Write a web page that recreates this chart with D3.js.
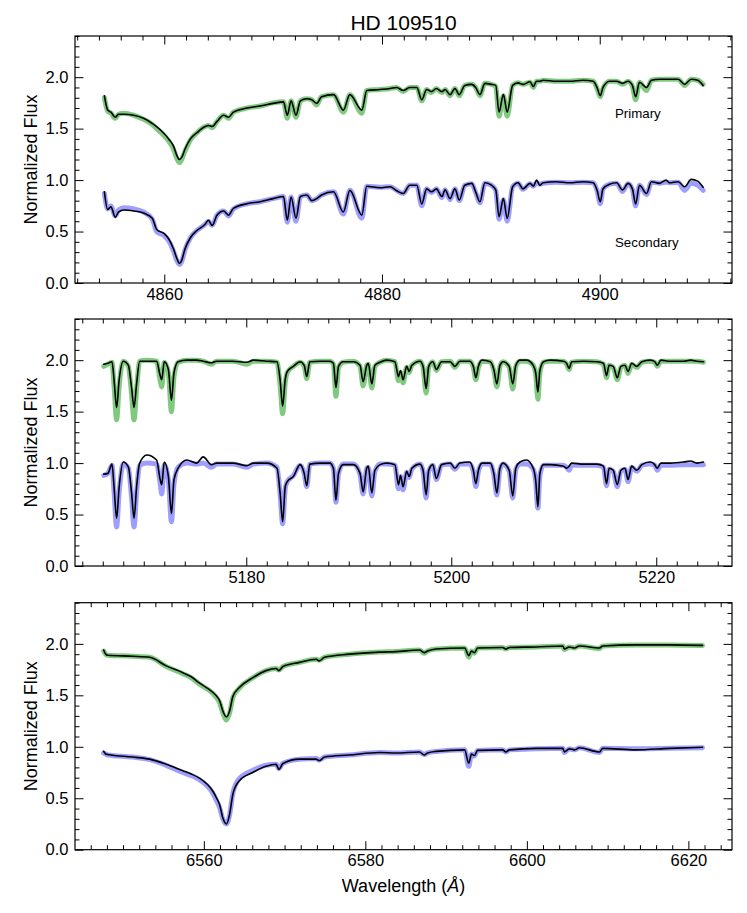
<!DOCTYPE html>
<html>
<head>
<meta charset="utf-8">
<script src="https://cdn.jsdelivr.net/npm/d3@7"></script>
<style>
  html, body { margin: 0; padding: 0; background: #fff; }
  svg { display: block; font-family: "Liberation Sans", Arial, Helvetica, sans-serif; }
</style>
</head>
<body>
<svg id="chart" width="747" height="913"></svg>
<script>
// ---------------- DATA ----------------
const title = "HD 109510";
const yTickValues = [0.0, 0.5, 1.0, 1.5, 2.0];
const yLabel = "Normalized Flux";
const xLabel = "Wavelength (";
const componentLabels = ["Primary", "Secondary"];
const componentLabelPos = [[4901.4, 1.60], [4901.4, 0.352]];

// Panel 1 : H-beta region
const p1Wave = [4854.5,4854.8,4855.1,4855.5,4855.8,4856.3,4857.2,4858.1,4858.9,4859.3,
 4860.0,4860.4,4860.85,4861.15,4861.4,4861.6,4861.9,4862.4,4863.0,4863.75,
 4864.05,4864.4,4864.85,4865.45,4865.9,4866.35,4867.6,4868.8,4870.0,4870.95,
 4871.3,4871.65,4872.1,4872.5,4873.1,4873.55,4874.0,4874.45,4875.55,4876.45,
 4877.05,4878.15,4878.6,4879.8,4880.75,4881.35,4881.95,4882.55,4883.2,4883.65,
 4884.1,4884.55,4885.0,4885.5,4885.8,4886.25,4886.7,4887.1,4887.6,4888.25,
 4888.6,4889.0,4889.45,4890.05,4890.45,4890.75,4891.15,4891.5,4892.0,4892.5,
 4892.95,4893.6,4893.9,4894.2,4894.5,4894.8,4896.0,4897.25,4898.45,4899.4,
 4899.75,4900.05,4900.3,4900.9,4901.55,4902.1,4902.6,4903.0,4903.3,4903.65,
 4904.3,4904.75,4905.5,4906.1,4906.4,4907.2,4907.8,4908.4,4909.0,4909.5];
const p1PrimObs = [1.82,1.68,1.66,1.61,1.64,1.64,1.63,1.60,1.55,1.52,
 1.45,1.40,1.33,1.24,1.20,1.22,1.30,1.40,1.46,1.52,
 1.53,1.52,1.57,1.63,1.61,1.66,1.70,1.72,1.745,1.76,
 1.63,1.77,1.63,1.77,1.79,1.78,1.745,1.81,1.83,1.68,
 1.83,1.68,1.87,1.88,1.89,1.90,1.87,1.90,1.90,1.78,
 1.88,1.86,1.89,1.86,1.88,1.83,1.89,1.83,1.92,1.93,
 1.90,1.83,1.94,1.93,1.92,1.66,1.83,1.66,1.92,1.945,
 1.93,1.955,1.91,1.96,1.96,1.97,1.96,1.96,1.97,1.96,
 1.90,1.82,1.90,1.96,1.96,1.94,1.96,1.92,1.81,1.95,
 1.90,1.97,1.98,1.98,1.98,1.98,1.93,1.98,1.97,1.92];
const p1PrimModel = [1.80,1.67,1.65,1.60,1.64,1.65,1.63,1.59,1.54,1.50,
 1.43,1.38,1.30,1.21,1.17,1.20,1.28,1.39,1.46,1.52,
 1.53,1.51,1.57,1.63,1.60,1.66,1.70,1.72,1.75,1.76,
 1.60,1.77,1.61,1.77,1.79,1.78,1.73,1.81,1.83,1.66,
 1.83,1.65,1.87,1.88,1.89,1.90,1.86,1.90,1.90,1.77,
 1.88,1.85,1.89,1.85,1.88,1.82,1.89,1.82,1.92,1.93,
 1.90,1.82,1.94,1.93,1.91,1.62,1.82,1.62,1.92,1.945,
 1.93,1.95,1.90,1.96,1.96,1.97,1.96,1.96,1.97,1.96,
 1.89,1.81,1.89,1.96,1.96,1.93,1.96,1.91,1.78,1.95,
 1.87,1.97,1.98,1.98,1.98,1.98,1.92,1.98,1.97,1.93];
const p1SecObs = [0.886,0.715,0.74,0.64,0.69,0.71,0.70,0.68,0.63,0.52,
 0.48,0.43,0.33,0.24,0.19,0.22,0.33,0.44,0.51,0.57,
 0.61,0.56,0.66,0.70,0.66,0.725,0.77,0.79,0.82,0.84,
 0.61,0.835,0.63,0.84,0.855,0.80,0.82,0.855,0.886,0.69,
 0.90,0.66,0.94,0.925,0.935,0.896,0.87,0.95,0.95,0.767,
 0.915,0.886,0.915,0.84,0.905,0.82,0.915,0.806,0.95,0.968,
 0.886,0.79,0.974,0.95,0.905,0.644,0.82,0.628,0.935,0.974,
 0.915,0.968,0.94,1.0,0.95,0.974,0.984,0.974,0.984,0.974,
 0.903,0.79,0.915,0.96,0.974,0.903,0.968,0.915,0.767,0.95,
 0.87,0.984,0.968,1.0,0.974,0.984,0.935,1.007,0.99,0.93];
const p1SecModel = [0.87,0.72,0.75,0.65,0.71,0.73,0.72,0.69,0.62,0.50,
 0.46,0.41,0.31,0.22,0.18,0.21,0.32,0.44,0.51,0.57,
 0.60,0.56,0.66,0.70,0.65,0.72,0.77,0.79,0.82,0.84,
 0.59,0.835,0.60,0.84,0.855,0.80,0.82,0.855,0.886,0.67,
 0.90,0.63,0.94,0.93,0.935,0.90,0.87,0.95,0.95,0.75,
 0.915,0.88,0.915,0.83,0.905,0.81,0.915,0.80,0.95,0.965,
 0.88,0.78,0.97,0.95,0.90,0.62,0.81,0.60,0.935,0.97,
 0.91,0.965,0.94,0.975,0.96,0.97,0.98,0.975,0.98,0.975,
 0.90,0.77,0.915,0.96,0.97,0.89,0.965,0.91,0.75,0.95,
 0.86,0.98,0.97,0.98,0.975,0.98,0.90,0.97,0.95,0.90];
const p1XTicks = [4860, 4880, 4900];

// Panel 2 : Mg b region
const p2Wave = [5166.1,5166.5,5166.9,5167.1,5167.35,5167.6,5168.0,5168.5,5168.8,5169.05,
 5169.3,5169.6,5170.3,5171.25,5171.6,5171.75,5172.0,5172.4,5172.7,5172.95,
 5173.35,5174.2,5175.15,5175.8,5176.6,5177.1,5178.7,5180.05,5180.7,5182.0,
 5183.0,5183.3,5183.55,5183.8,5184.0,5184.6,5185.25,5185.65,5185.9,5186.2,
 5187.2,5188.15,5188.5,5188.75,5189.0,5189.45,5190.45,5191.1,5191.4,5191.75,
 5191.9,5192.25,5192.55,5193.05,
 5193.7,5194.5,5194.85,5195.05,5195.3,5195.65,5195.9,5196.15,5196.95,5197.25,
 5197.55,5197.8,5198.2,5198.55,5199.05,5199.9,5200.35,5200.85,5201.8,5202.15,
 5202.4,5202.65,5203.0,5203.8,5204.15,5204.45,5204.75,5205.05,5205.65,5206.0,
 5206.3,5206.7,5207.35,5208.0,5208.25,5208.45,5208.65,5209.0,5209.65,5210.95,
 5211.25,5211.5,5211.75,5212.9,5214.2,5214.85,5215.15,5215.4,5215.8,5216.2,
 5216.55,5216.95,5217.25,5217.6,5218.1,5218.6,5219.4,5219.85,5220.1,5220.45,
 5221.35,5222.65,5223.35,5223.95,5224.6];
const p2PrimObs = [1.96,1.97,1.985,1.81,1.54,1.81,1.99,1.95,1.74,1.54,
 1.77,1.99,1.99,1.99,1.85,1.81,1.985,1.91,1.61,1.88,
 1.985,2.0,2.0,1.99,1.975,1.99,1.99,1.98,2.0,1.99,
 1.985,1.81,1.553,1.81,1.89,1.94,1.985,1.95,1.84,1.985,
 1.99,1.99,1.97,1.735,1.94,1.985,1.985,1.95,1.79,1.95,
 1.97,1.77,1.95,1.98,
 2.0,1.985,1.84,1.90,1.81,1.94,1.89,1.95,1.99,1.94,
 1.725,1.94,1.985,1.91,1.985,1.985,1.94,1.99,1.99,1.94,
 1.83,1.94,2.0,1.985,1.91,1.77,1.95,1.985,1.94,1.77,
 1.95,2.0,2.0,1.95,1.87,1.69,1.90,1.985,2.0,1.99,
 1.97,1.92,1.985,1.99,1.985,1.97,1.85,1.95,1.94,1.83,
 1.94,1.95,1.89,1.97,1.94,1.985,2.0,1.985,1.95,2.0,
 1.99,1.99,2.0,1.99,1.985];
const p2PrimModel = [1.94,1.96,1.98,1.75,1.42,1.75,1.99,1.94,1.68,1.42,
 1.72,1.99,2.0,1.99,1.80,1.74,1.98,1.88,1.50,1.84,
 1.98,2.0,2.0,1.99,1.96,1.99,1.99,1.96,1.99,1.99,
 1.98,1.76,1.48,1.78,1.88,1.94,1.98,1.94,1.82,1.98,
 1.99,1.99,1.96,1.65,1.93,1.98,1.99,1.94,1.75,1.95,
 1.96,1.73,1.94,1.98,
 2.0,1.985,1.80,1.88,1.78,1.93,1.88,1.95,1.99,1.93,
 1.68,1.93,1.985,1.90,1.985,1.99,1.93,1.99,1.99,1.93,
 1.81,1.93,1.99,1.985,1.90,1.74,1.94,1.985,1.93,1.72,
 1.94,1.99,1.99,1.95,1.85,1.62,1.88,1.98,1.99,1.99,
 1.96,1.91,1.98,1.99,1.985,1.96,1.83,1.95,1.93,1.81,
 1.93,1.95,1.87,1.96,1.93,1.98,1.99,1.98,1.94,1.99,
 1.99,1.99,1.99,1.99,1.98];
const p2SecObs = [0.893,0.90,0.99,0.77,0.463,0.77,1.01,0.96,0.72,0.463,
 0.77,1.0,1.078,1.03,0.84,0.79,1.01,0.87,0.51,0.84,
 0.95,1.03,1.0,1.06,0.985,1.0,1.0,0.975,1.0,1.0,
 0.95,0.71,0.43,0.77,0.82,0.87,0.985,0.90,0.78,0.99,
 1.0,1.0,0.95,0.64,0.90,0.985,0.985,0.90,0.72,0.95,
 0.97,0.71,0.93,0.985,
 1.0,0.985,0.79,0.88,0.77,0.92,0.87,0.95,0.99,0.93,
 0.69,0.93,0.985,0.85,0.985,1.0,0.95,1.0,1.01,0.93,
 0.80,0.93,1.0,1.0,0.90,0.71,0.95,1.0,0.93,0.68,
 0.95,1.01,1.03,0.95,0.82,0.576,0.90,0.985,0.985,0.97,
 0.95,0.97,1.0,0.99,0.99,0.97,0.80,0.95,0.93,0.79,
 0.93,0.95,0.84,0.97,0.93,0.985,1.01,0.985,0.95,1.0,
 1.0,1.01,1.02,1.0,1.01];
const p2SecModel = [0.88,0.90,0.98,0.72,0.38,0.72,0.99,0.95,0.68,0.38,
 0.72,0.98,1.0,0.99,0.80,0.70,0.98,0.84,0.43,0.80,
 0.96,1.0,0.99,1.0,0.96,0.99,0.99,0.96,0.99,1.0,
 0.96,0.70,0.41,0.75,0.82,0.88,0.98,0.90,0.77,0.99,
 1.0,1.0,0.95,0.62,0.90,0.99,0.99,0.89,0.70,0.95,
 0.96,0.68,0.92,0.99,
 0.99,0.98,0.75,0.87,0.74,0.91,0.86,0.94,0.99,0.92,
 0.66,0.92,0.98,0.84,0.98,0.99,0.94,0.99,0.99,0.92,
 0.77,0.92,0.99,0.99,0.89,0.69,0.94,0.99,0.92,0.66,
 0.94,0.99,0.99,0.94,0.81,0.56,0.88,0.98,0.98,0.98,
 0.96,0.93,0.98,0.98,0.98,0.96,0.78,0.94,0.92,0.77,
 0.92,0.94,0.82,0.96,0.92,0.98,0.99,0.98,0.93,0.98,
 0.98,0.985,0.985,0.985,0.985];
const p2XTicks = [5180, 5200, 5220];

// Panel 3 : H-alpha region
const p3Wave = [6547.6,6547.85,6548.1,6551.2,6553.3,6555.35,6557.4,6558.45,6559.45,6561.1,
 6561.55,6561.95,6562.35,6562.8,6563.2,6563.6,6564.4,6566.05,6567.7,6568.95,
 6569.3,6569.8,6571.85,6573.9,6574.3,6574.95,6578.0,6581.75,6583.8,6586.7,
 6587.3,6587.7,6588.75,6592.3,6592.8,6593.15,6593.5,6593.9,6597.0,6597.4,
 6597.85,6601.15,6604.45,6604.65,6605.25,6605.9,6606.5,6609.0,6609.4,6613.5,
 6617.65,6621.75];
const p3PrimObs = [1.94,1.90,1.89,1.88,1.87,1.786,1.72,1.68,1.62,1.53,
 1.495,1.45,1.35,1.29,1.35,1.49,1.576,1.67,1.74,1.76,
 1.74,1.78,1.82,1.85,1.835,1.87,1.90,1.92,1.925,1.94,
 1.915,1.93,1.95,1.96,1.885,1.93,1.915,1.96,1.965,1.95,
 1.965,1.97,1.98,1.95,1.97,1.96,1.98,1.96,1.98,1.99,
 1.99,1.985];
const p3PrimModel = [1.93,1.90,1.89,1.88,1.87,1.78,1.71,1.67,1.61,1.52,
 1.48,1.43,1.33,1.26,1.33,1.48,1.57,1.67,1.74,1.76,
 1.745,1.78,1.82,1.85,1.84,1.87,1.90,1.92,1.925,1.94,
 1.91,1.93,1.95,1.96,1.87,1.93,1.91,1.96,1.965,1.95,
 1.965,1.97,1.98,1.945,1.97,1.96,1.98,1.955,1.98,1.99,
 1.99,1.985];
const p3SecObs = [0.955,0.93,0.925,0.90,0.88,0.83,0.767,0.735,0.695,0.57,
 0.506,0.44,0.31,0.25,0.346,0.54,0.67,0.75,0.81,0.83,
 0.78,0.838,0.88,0.88,0.866,0.90,0.92,0.945,0.94,0.95,
 0.92,0.94,0.955,0.97,0.84,0.93,0.915,0.965,0.97,0.95,
 0.97,0.985,0.985,0.95,0.98,0.97,0.99,0.95,0.985,0.97,
 0.985,0.995];
const p3SecModel = [0.94,0.93,0.92,0.90,0.875,0.82,0.75,0.72,0.68,0.55,
 0.48,0.41,0.30,0.25,0.34,0.55,0.69,0.77,0.82,0.83,
 0.79,0.84,0.88,0.885,0.87,0.90,0.92,0.945,0.94,0.95,
 0.925,0.94,0.955,0.97,0.81,0.93,0.91,0.965,0.97,0.95,
 0.97,0.98,0.985,0.945,0.98,0.97,0.99,0.945,0.985,0.98,
 0.985,0.99];
const p3XTicks = [6560, 6580, 6600, 6620];

// ---------------- LAYOUT ----------------
const W = 747, H = 913;
const left = 75, right = 732;
const panelTops = [36, 319, 602.7];
const panelH = 247;
const xDomains = [[4851.8, 4912.15], [5163.29, 5227.39], [6544.05, 6625.4]];

const panels = [
  { wave: p1Wave, series: [p1PrimModel, p1SecModel, p1PrimObs, p1SecObs], ticks: p1XTicks },
  { wave: p2Wave, series: [p2PrimModel, p2SecModel, p2PrimObs, p2SecObs], ticks: p2XTicks },
  { wave: p3Wave, series: [p3PrimModel, p3SecModel, p3PrimObs, p3SecObs], ticks: p3XTicks }
];
const seriesStyle = [
  { stroke: "rgb(0,150,0)", opacity: 0.5, width: 5 },
  { stroke: "rgb(40,40,255)", opacity: 0.45, width: 5 },
  { stroke: "#000", opacity: 1, width: 1.6 },
  { stroke: "#000", opacity: 1, width: 1.6 }
];

const svg = d3.select("#chart");
svg.append("rect").attr("width", W).attr("height", H).attr("fill", "#fff");

const tickFont = 16.5;

panels.forEach((p, i) => {
  const top = panelTops[i], bottom = top + panelH;
  const x = d3.scaleLinear().domain(xDomains[i]).range([left, right]);
  const y = d3.scaleLinear().domain([0, 2.4]).range([bottom, top]);
  const g = svg.append("g");

  // lines
  p.series.forEach((vals, k) => {
    const pts = p.wave.map((w, j) => [w, vals[j]]).filter(d => d[1] !== undefined);
    const line = d3.line().x(d => x(d[0])).y(d => y(d[1])).curve(d3.curveMonotoneX);
    const st = seriesStyle[k];
    g.append("path").datum(pts)
      .attr("d", line)
      .attr("fill", "none")
      .attr("stroke", st.stroke)
      .attr("stroke-opacity", st.opacity)
      .attr("stroke-width", st.width)
      .attr("stroke-linejoin", "round")
      .attr("stroke-linecap", "round");
  });

  // minor ticks
  const [x0, x1] = xDomains[i];
  const xMinor = d3.range(Math.ceil(x0 / 2) * 2, x1, 2).filter(v => v % 20 !== 0);
  const yMinor = d3.range(0, 24.01, 1).map(v => v / 10).filter(v => Math.round(v * 10) % 5 !== 0);
  const styleAxis = sel => {
    sel.select(".domain").remove();
    sel.selectAll(".tick line").attr("stroke", "#000").attr("stroke-width", 1);
    sel.selectAll(".tick text").attr("font-size", tickFont).attr("fill", "#000")
      .attr("font-family", '"Liberation Sans", Arial, sans-serif');
  };
  const majorLen = 8.5, minorLen = 4.5;

  // bottom
  g.append("g").attr("transform", `translate(0,${bottom})`)
    .call(d3.axisBottom(x).tickValues(p.ticks).tickFormat(d3.format("d")).tickSize(-majorLen).tickPadding(5))
    .call(styleAxis);
  g.append("g").attr("transform", `translate(0,${bottom})`)
    .call(d3.axisBottom(x).tickValues(xMinor).tickFormat("").tickSize(-minorLen))
    .call(styleAxis);
  // top
  g.append("g").attr("transform", `translate(0,${top})`)
    .call(d3.axisTop(x).tickValues(p.ticks).tickFormat("").tickSize(-majorLen))
    .call(styleAxis);
  g.append("g").attr("transform", `translate(0,${top})`)
    .call(d3.axisTop(x).tickValues(xMinor).tickFormat("").tickSize(-minorLen))
    .call(styleAxis);
  // left
  g.append("g").attr("transform", `translate(${left},0)`)
    .call(d3.axisLeft(y).tickValues(yTickValues).tickFormat(d3.format(".1f")).tickSize(-majorLen).tickPadding(6.5))
    .call(styleAxis);
  g.append("g").attr("transform", `translate(${left},0)`)
    .call(d3.axisLeft(y).tickValues(yMinor).tickFormat("").tickSize(-minorLen))
    .call(styleAxis);
  // right
  g.append("g").attr("transform", `translate(${right},0)`)
    .call(d3.axisRight(y).tickValues(yTickValues).tickFormat("").tickSize(-majorLen))
    .call(styleAxis);
  g.append("g").attr("transform", `translate(${right},0)`)
    .call(d3.axisRight(y).tickValues(yMinor).tickFormat("").tickSize(-minorLen))
    .call(styleAxis);

  // frame
  g.append("rect").attr("x", left).attr("y", top)
    .attr("width", right - left).attr("height", panelH)
    .attr("fill", "none").attr("stroke", "#000").attr("stroke-width", 1.2);

  // y label
  g.append("text")
    .attr("transform", `translate(37,${(top + bottom) / 2}) rotate(-90)`)
    .attr("text-anchor", "middle")
    .attr("font-size", 18)
    .text(yLabel);

  if (i === 0) {
    componentLabels.forEach((t, k) => {
      g.append("text")
        .attr("x", x(componentLabelPos[k][0]))
        .attr("y", y(componentLabelPos[k][1]))
        .attr("font-size", 13.3)
        .text(t);
    });
  }
  if (i === 2) {
    const t = g.append("text")
      .attr("x", (left + right) / 2)
      .attr("y", 891.7)
      .attr("text-anchor", "middle")
      .attr("font-size", 18);
    t.append("tspan").text(xLabel);
    t.append("tspan").attr("font-style", "italic").text("Å");
    t.append("tspan").text(")");
  }
});

// title
svg.append("text")
  .attr("x", (left + right) / 2)
  .attr("y", 30)
  .attr("text-anchor", "middle")
  .attr("font-size", 21)
  .text(title);
</script>
</body>
</html>
